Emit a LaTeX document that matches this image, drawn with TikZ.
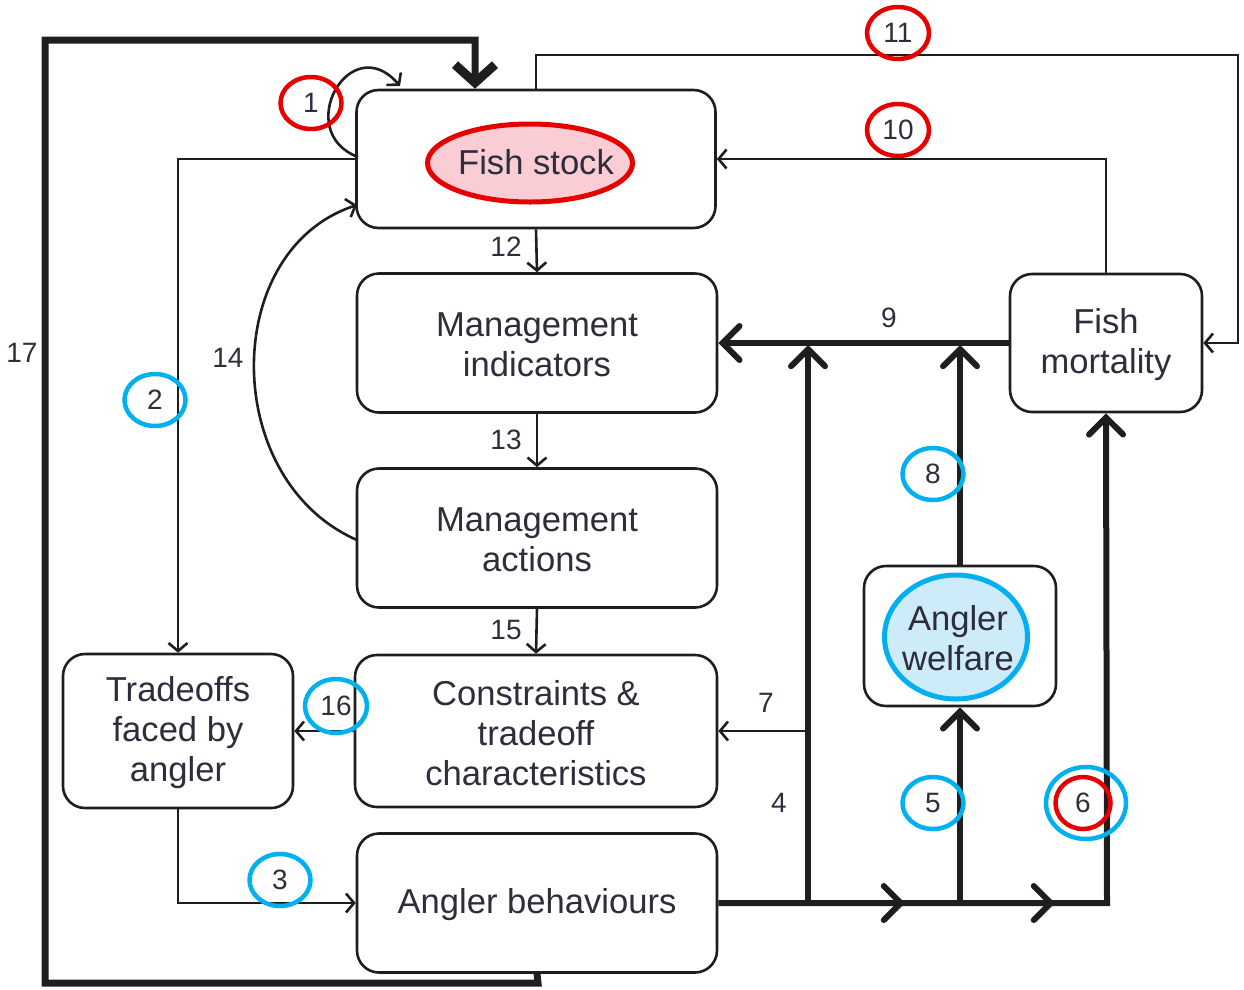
\documentclass[tikz,border=0pt]{standalone}
\usepackage{fontspec}
\setmainfont{Liberation Sans}
\usetikzlibrary{arrows.meta,shapes.geometric,calc}
\definecolor{txt}{RGB}{45,45,60}
\definecolor{linec}{RGB}{30,30,30}
\definecolor{redc}{RGB}{230,0,0}
\definecolor{bluec}{RGB}{0,176,240}
\definecolor{pinkf}{RGB}{249,205,211}
\definecolor{bluef}{RGB}{205,235,248}
\begin{document}
\begin{tikzpicture}[x=1pt,y=-1pt,
 box/.style={draw=linec, line width=2.6pt, rounded corners=22pt, align=center, text=txt, font=\fontsize{34.6}{40}\selectfont, inner sep=0pt},
 btext/.style={align=center, text=txt, font=\fontsize{34.6}{40}\selectfont, inner sep=0pt},
 num/.style={text=txt, font=\fontsize{28}{30}\selectfont, inner sep=0pt},
 rcirc/.style={num, ellipse, draw=redc, line width=4.5pt, minimum width=61pt, minimum height=52pt},
 bcirc/.style={num, ellipse, draw=bluec, line width=4.5pt, minimum width=61pt, minimum height=52pt},
 tarrow/.style={draw=linec, line width=2.6pt, -{Straight Barb[length=8pt,width=19pt]}},
 barrow/.style={draw=linec, line width=6pt, -{Straight Barb[length=17pt,width=34pt,line cap=round]}},
 bline/.style={draw=linec, line width=6pt},
]
\useasboundingbox (0,0) rectangle (1244,989);
% boxes
\node[box, minimum width=359pt, minimum height=138pt] (fs) at (536,159) {};
\node[ellipse, fill=pinkf, draw=redc, line width=5pt, minimum width=205pt, minimum height=78pt, inner sep=0pt] (fse) at (530,163) {};
\node[btext] (fst) at (536,162) {Fish stock};
\node[box, minimum width=360pt, minimum height=139pt] (mi) at (537,343) {};
\node[btext] (mit) at (537,345) {Management\\indicators};
\node[box, minimum width=360pt, minimum height=139pt] (ma) at (537,538) {};
\node[btext] (mat) at (537,540) {Management\\actions};
\node[box, minimum width=362pt, minimum height=152pt] (cn) at (536,731) {};
\node[btext] (cnt) at (536,733) {Constraints \&\\tradeoff\\characteristics};
\node[box, minimum width=360pt, minimum height=139pt] (ab) at (537,903) {};
\node[btext] (abt) at (537,905) {Angler behaviours};
\node[box, minimum width=230pt, minimum height=154pt] (to) at (178,731) {};
\node[btext] (tot) at (178,733) {Tradeoffs\\faced by\\angler};
\node[box, minimum width=192pt, minimum height=138pt] (fm) at (1106,343) {};
\node[btext] (fmt) at (1106,345) {Fish\\mortality};
\node[box, minimum width=192pt, minimum height=140pt] (aw) at (960,636) {};
\node[ellipse, fill=bluef, draw=bluec, line width=5pt, minimum width=143pt, minimum height=124pt, inner sep=0pt] (awe) at (956,637) {};
\node[btext] (awt) at (958,638) {Angler\\welfare};
% coordinates
\coordinate (c17a) at (538,983);
\coordinate (c17b) at (45,983);
\coordinate (c17c) at (45,40);
\coordinate (c17d) at (475,40);
\coordinate (c11) at (1238,55);
\coordinate (b4) at (808,903);
\coordinate (t4) at (808,345);
\coordinate (c7) at (808,731);
\coordinate (b5) at (960,903);
\coordinate (t8) at (960,345);
\coordinate (b6) at (1107,903);
\coordinate (m1) at (905,903);
\coordinate (m2) at (1055,903);
\coordinate (l1s) at (358,157);
\coordinate (l1e) at (400,86);
\coordinate (e14) at (357,205);
\coordinate (s14) at (357,540);
% thin connectors
\draw[tarrow] (fs.south) -- (mi.north);
\draw[tarrow] (mi.south) -- (ma.north);
\draw[tarrow] (ma.south) -- (cn.north);
\draw[tarrow] (s14) .. controls (220,480) and (220,250) .. (e14);
\draw[tarrow] (l1s) .. controls (292,132) and (350,28) .. (l1e);
\draw[tarrow] (fs.west) -| (to.north);
\draw[tarrow] (to.south) |- (ab.west);
\draw[tarrow] (cn.west) -- (to.east);
\draw[tarrow] (fs.north) |- (c11) |- (fm.east);
\draw[tarrow] (fm.north) |- (fs.east);
\draw[tarrow] (c7) -- (cn.east);
% thick connectors
\draw[bline, line width=7pt, -{Straight Barb[length=18pt,width=40pt,line width=9pt]}] (ab.south) -- (c17a) -- (c17b) -- (c17c) -- (c17d) -- (c17d |- fs.north);
\draw[barrow] (fm.west) -- (mi.east);
\draw[barrow] (ab.east) -- (b6) -- (fm.south);
\draw[barrow] (b4) -- (m1);
\draw[barrow] (b5) -- (m2);
\draw[barrow] (b4) -- (t4);
\draw[barrow] (b5) -- (aw.south);
\draw[barrow] (aw.north) -- (t8);
% plain labels
\node[num] (n12) at (506,247) {12};
\node[num] (n13) at (506,440) {13};
\node[num] (n15) at (506,630) {15};
\node[num] (n14) at (228,358) {14};
\node[num] (n17) at (22,353) {17};
\node[num] (n9) at (889,318) {9};
\node[num] (n7) at (766,703) {7};
\node[num] (n4) at (779,803) {4};
% circled labels
\node[rcirc] (n1) at (311,103) {1};
\node[rcirc, minimum width=62pt] (n11) at (898,33) {11};
\node[rcirc, minimum width=62pt] (n10) at (898,130) {10};
\node[bcirc] (n2) at (155,400) {2};
\node[bcirc] (n3) at (280,880) {3};
\node[bcirc, minimum width=62pt, minimum height=54pt] (n16) at (336,706) {16};
\node[bcirc] (n8) at (933,474) {8};
\node[bcirc] (n5) at (933,803) {5};
\node[ellipse, draw=bluec, line width=4.5pt, minimum width=80pt, minimum height=72pt] (n6b) at (1086,803) {};
\node[num, ellipse, draw=redc, line width=4.5pt, minimum width=55pt, minimum height=52pt] (n6) at (1083,803) {6};
\end{tikzpicture}
\end{document}
